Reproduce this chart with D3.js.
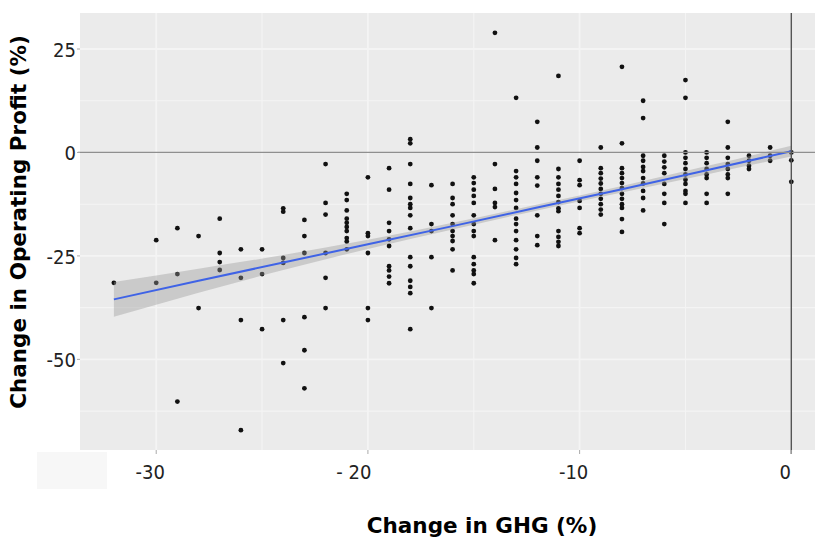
<!DOCTYPE html>
<html>
<head>
<meta charset="utf-8">
<script src="https://cdn.jsdelivr.net/npm/d3@7/dist/d3.min.js"></script>
<style>
  html, body { margin: 0; padding: 0; background: #ffffff; }
  svg { display: block; }
</style>
</head>
<body>
<svg id="chart" width="815" height="538"></svg>
<script>
// ---- data ----
const ghgLevels = [-32, -30, -29, -28, -27, -26, -25, -24, -23, -22, -21, -20, -19, -18, -17, -16,
                   -15, -14, -13, -12, -11, -10, -9, -8, -7, -6, -5, -4, -3, -2, -1, 0];
const profitByGhg = [
  [-31.5],
  [-21.2, -31.5],
  [-18.3, -29.4, -60.2],
  [-20.2, -37.6],
  [-16, -24.3, -26.5, -28.4],
  [-23.4, -30.3, -40.5, -67.1],
  [-23.4, -29.4, -42.7],
  [-13.5, -14.3, -25.5, -26.7, -40.5, -50.9],
  [-16.3, -20.2, -24.3, -39.8, -47.8, -57],
  [-2.8, -12.2, -15, -24.3, -30.3, -37.6],
  [-10, -11.5, -14, -16, -17, -18, -19, -20.7, -21.5, -23.4],
  [-6, -19.5, -20.2, -24.3, -37.6, -40.5],
  [-3.8, -9, -17, -19, -21, -22.6, -27.5, -28.5, -30, -31.6],
  [2.2, 3.2, -2.8, -7.6, -11, -12.5, -13.4, -15.2, -18.3, -25.3, -27.5, -31, -32.5, -34, -42.7],
  [-7.9, -17.3, -19, -25.3, -37.6],
  [-7.6, -11, -12.5, -15.2, -17.3, -19, -20.2, -21.4, -23.4, -28.5],
  [-6, -7.4, -9, -10.5, -12.2, -15.2, -17.3, -19, -20.2, -25.3, -27, -28.5, -29.4, -31.6],
  [28.9, -2.8, -8.8, -12.2, -13.2, -21.2],
  [13.2, -4.5, -6, -7.6, -9.8, -11.5, -13.4, -16, -17.3, -19, -21.2, -23.4, -25.5, -27],
  [7.4, 1.2, -2, -6, -8, -15.2, -20.2, -22.4],
  [18.5, -4, -6, -7.6, -9, -10.5, -12, -13.5, -14.2, -19, -20.4, -21.6, -22.6],
  [-2, -6.7, -7.9, -11.7, -13.4, -18.3, -19.5],
  [1.2, -3.8, -5, -6.3, -7.5, -8.8, -10, -11.2, -12.5, -13.8, -15],
  [20.7, 2.2, -3.8, -5, -6.2, -7.4, -8.6, -10, -11.2, -12.5, -13.4, -16.1, -19.2],
  [12.5, 8.3, -0.8, -2, -3.5, -4.5, -6.2, -7.5, -9.3, -11, -14],
  [-0.8, -2.2, -3.6, -5, -7.6, -10, -12.2, -17.3],
  [17.5, 13.2, 0, -1.3, -2.6, -4, -5.3, -6.6, -7.6, -9.3, -10, -12.2],
  [0, -1.3, -2.6, -4, -5.3, -6.2, -10, -12.2],
  [7.4, 1.2, -1.3, -2.8, -4, -5.3, -6.2, -10],
  [-0.8, -2, -3.2, -4],
  [1.2, -0.8, -2],
  [0, -1.9, -7.1]
];
// fitted line and its confidence band
const fitGhg   = [-32, -28, -24, -20, -16, -12, -8, -4, 0];
const fitValue = [-35.5, -31.0, -26.6, -22.2, -17.8, -13.3, -8.9, -4.3, 0.3];
const fitHalf  = [4.2, 2.9, 1.8, 1.1, 0.8, 0.7, 0.8, 1.0, 1.3];

const xTickValues = [-30, -20, -10, 0];
const xTickLabels = ["-30", "- 20", "-10", "0"];
const yTickValues = [25, 0, -25, -50];
const yTickLabels = ["25", "0", "-25", "-50"];
const xTitle = "Change in GHG (%)";
const yTitle = "Change in Operating Profit (%)";

// ---- layout ----
const svg = d3.select("#chart");
const panel = { left: 80, top: 13, right: 815, bottom: 450 };

const points = [];
ghgLevels.forEach((g, i) => profitByGhg[i].forEach(v => points.push({ x: g, y: v })));

const x = d3.scaleLinear().domain([-33.6, 1.6]).range([panel.left, panel.left + (1.6 + 33.6) * 21.17]);
const y = d3.scaleLinear().domain([-71.9, 33.7]).range([panel.bottom, panel.top]);

svg.append("defs").append("clipPath").attr("id", "clip")
  .append("rect").attr("x", panel.left).attr("y", panel.top)
  .attr("width", panel.right - panel.left).attr("height", panel.bottom - panel.top);

// faint artifact box at lower left
svg.append("rect").attr("x", 37).attr("y", 452).attr("width", 70).attr("height", 37)
  .attr("fill", "#f7f7f7");

// panel
svg.append("rect").attr("x", panel.left).attr("y", panel.top)
  .attr("width", panel.right - panel.left).attr("height", panel.bottom - panel.top)
  .attr("fill", "#ebebeb");

const g = svg.append("g").attr("clip-path", "url(#clip)");

// grid lines (major + minor)
const xGrid = [-30, -25, -20, -15, -10, -5];
const yGrid = [25, 12.5, -12.5, -25, -37.5, -50, -62.5];
g.selectAll(".xg").data(xGrid).join("line")
  .attr("x1", d => x(d)).attr("x2", d => x(d))
  .attr("y1", panel.top).attr("y2", panel.bottom)
  .attr("stroke", "#f4f4f4").attr("stroke-width", d => d % 10 === 0 ? 1.8 : 1.1);
g.selectAll(".yg").data(yGrid).join("line")
  .attr("x1", panel.left).attr("x2", panel.right)
  .attr("y1", d => y(d)).attr("y2", d => y(d))
  .attr("stroke", "#f4f4f4").attr("stroke-width", d => d % 25 === 0 ? 1.8 : 1.1);

// zero lines
svg.append("line").attr("x1", panel.left - 2).attr("x2", panel.right)
  .attr("y1", y(0)).attr("y2", y(0)).attr("stroke", "#8f8f8f").attr("stroke-width", 1.2);
svg.append("line").attr("x1", x(0)).attr("x2", x(0))
  .attr("y1", panel.top).attr("y2", panel.bottom + 4).attr("stroke", "#555").attr("stroke-width", 1.4);

// points
g.selectAll(".pt").data(points).join("circle")
  .attr("cx", d => x(d.x)).attr("cy", d => y(d.y)).attr("r", 2.4)
  .attr("fill", "#111");

// fit band and line
const fit = fitGhg.map((xv, i) => ({ x: xv, y: fitValue[i], lo: fitValue[i] - fitHalf[i], hi: fitValue[i] + fitHalf[i] }));
g.append("path").datum(fit)
  .attr("d", d3.area().curve(d3.curveMonotoneX).x(d => x(d.x)).y0(d => y(d.lo)).y1(d => y(d.hi)))
  .attr("fill", "#999").attr("fill-opacity", 0.4);
g.append("path").datum(fit)
  .attr("d", d3.line().x(d => x(d.x)).y(d => y(d.y)))
  .attr("fill", "none").attr("stroke", "#3f63e6").attr("stroke-width", 2);

// axis ticks & labels
const tickFont = "'Liberation Sans Narrow', 'DejaVu Sans Condensed', 'Liberation Sans', sans-serif";
svg.selectAll(".xt").data(xTickValues).join("line")
  .attr("x1", d => x(d)).attr("x2", d => x(d)).attr("y1", panel.bottom).attr("y2", panel.bottom + 4)
  .attr("stroke", "#aaa").attr("stroke-width", 1);
svg.selectAll(".xl").data(xTickValues).join("text")
  .attr("x", (d, i) => x(d) - (i === 1 ? 14 : 6)).attr("y", 479)
  .attr("text-anchor", "middle").attr("font-family", tickFont).attr("font-size", 20)
  .attr("fill", "#222").text((d, i) => xTickLabels[i]);
svg.selectAll(".yt").data(yTickValues).join("line")
  .attr("x1", panel.left - 3).attr("x2", panel.left).attr("y1", d => y(d)).attr("y2", d => y(d))
  .attr("stroke", "#aaa").attr("stroke-width", 1);
svg.selectAll(".yl").data(yTickValues).join("text")
  .attr("x", 76).attr("y", d => y(d) + 8)
  .attr("text-anchor", "end").attr("font-family", tickFont).attr("font-size", 20)
  .attr("fill", "#222").text((d, i) => yTickLabels[i]);

// titles
const titleFont = "'DejaVu Sans', 'Open Sans', sans-serif";
svg.append("text").attr("x", 482).attr("y", 533).attr("text-anchor", "middle")
  .attr("font-family", titleFont).attr("font-weight", 700).attr("font-size", 21.5)
  .attr("fill", "#000").text(xTitle);
svg.append("text").attr("transform", "translate(26,222) rotate(-90)").attr("text-anchor", "middle")
  .attr("font-family", titleFont).attr("font-weight", 700).attr("font-size", 21.5)
  .attr("fill", "#000").text(yTitle);
</script>
</body>
</html>
